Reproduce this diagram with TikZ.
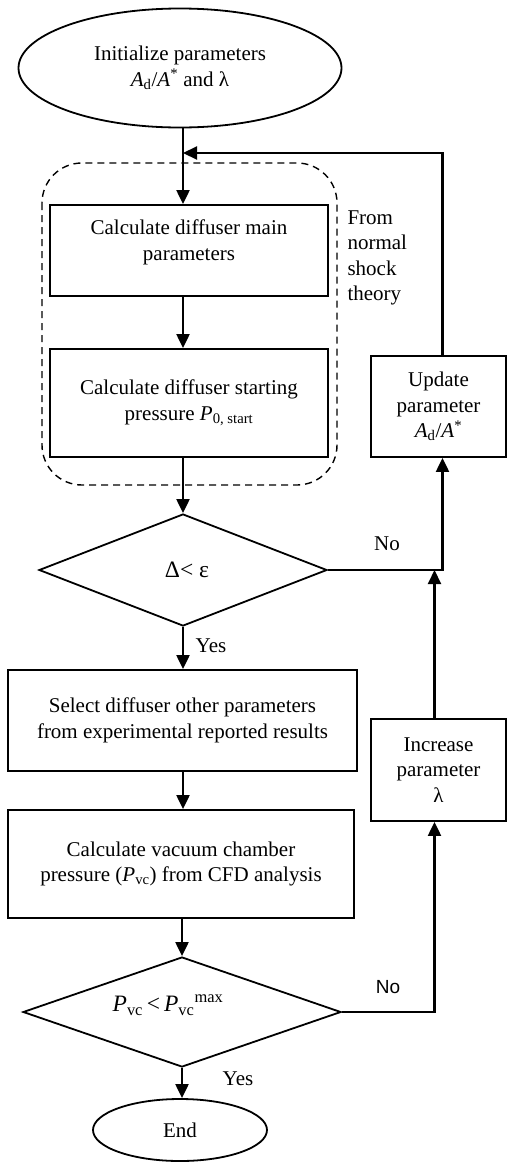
\documentclass[tikz,border=0pt]{standalone}
\usepackage{fontspec}
\setmainfont{Liberation Serif}
\newfontfamily\arialfont{Liberation Sans}
\usepackage{tikz}
\usetikzlibrary{shapes.geometric, arrows.meta, positioning, calc}

\begin{document}
\begin{tikzpicture}[
    x=1pt, y=-1pt,
    every node/.style={font=\fontsize{21}{25.5}\selectfont},
    process/.style={rectangle, draw, line width=1.8pt, align=center, inner sep=2pt},
    decision/.style={diamond, draw, line width=1.8pt, inner sep=-30pt, align=center, font=\fontsize{23.5}{26}\selectfont},
    terminal/.style={ellipse, draw, line width=1.8pt, align=center, inner sep=0pt},
    arrow/.style={-{Triangle[length=14pt, width=13pt]}, line width=2.1pt},
    tag/.style={font=\fontsize{21}{25.5}\selectfont}
]
    \useasboundingbox (0,0) rectangle (507,1162);

    % main column axis and loop point
    \coordinate (ax) at (183,0);
    \coordinate (loop) at (183,153);

    % Start
    \node[terminal, minimum width=323pt, minimum height=119pt] (init) at (180,68)
        {Initialize parameters\\\textit{A}\textsubscript{d}/\textit{A}\textsuperscript{*} and λ};

    % Normal shock block
    \node[process, minimum width=278pt, minimum height=91pt] (mainpar) at (189,250.5)
        {Calculate diffuser main\\parameters\\[-5pt]};
    \node[process, minimum width=278pt, minimum height=108pt] (startp) at (189,403)
        {Calculate diffuser starting\\pressure \textit{P}\textsubscript{0, start}};
    \draw[dashed, dash pattern=on 7pt off 5pt, line width=1.4pt, rounded corners=40pt]
        (42,163) rectangle (337,485);
    \node[tag, anchor=north west, align=left] (theory) at (344,207)
        {From\\normal\\shock\\theory};

    % First check
    \node[decision, minimum width=288pt, minimum height=112pt] (check1) at (183,570)
        {\hspace*{8pt}Δ< ε};

    % CFD part
    \node[process, minimum width=349pt, minimum height=101pt] (select) at (182.5,720.5)
        {Select diffuser other parameters\\from experimental reported results};
    \node[process, minimum width=346pt, minimum height=108pt] (cfd) at (181,864)
        {Calculate vacuum chamber\\pressure (\textit{P}\textsubscript{vc}) from CFD analysis};

    % Second check
    \node[decision, minimum width=318pt, minimum height=110pt] (check2) at (182,1012)
        {\textit{P}\textsubscript{vc}\,<\,\textit{P}\textsubscript{vc}\textsuperscript{max}\hspace*{28pt}\\[-8pt]};

    % End
    \node[terminal, minimum width=174pt, minimum height=62pt] (stop) at (180,1130) {End};

    % Right column
    \node[process, minimum width=135pt, minimum height=101pt] (update) at (438.5,406.5)
        {Update\\parameter\\\textit{A}\textsubscript{d}/\textit{A}\textsuperscript{*}};
    \node[process, minimum width=135pt, minimum height=102pt] (increase) at (438.5,770)
        {Increase\\parameter\\λ};

    % Main flow
    \draw[arrow] (init.south -| ax) -- (mainpar.north -| ax);
    \draw[arrow] (mainpar.south -| ax) -- (startp.north -| ax);
    \draw[arrow] (startp.south -| ax) -- (check1.north);
    \draw[arrow] (check1.south) -- (select.north -| check1.south);
    \draw[arrow] (select.south -| ax) -- (cfd.north -| ax);
    \draw[arrow] (cfd.south -| check2.north) -- (check2.north);
    \draw[arrow] (check2.south) -- (stop.north -| check2.south);

    % Feedback loops
    \draw[arrow] (check1.east) -| ([xshift=4pt]update.south);
    \draw[arrow] ([xshift=-4pt]increase.north) -- ([xshift=-4pt]increase.north |- check1.east);
    \draw[arrow] (check2.east) -| ([xshift=-4pt]increase.south);
    \draw[arrow] ([xshift=4pt]update.north) |- (loop);

    % Labels
    \node[tag] (no1) at (387,544) {No};
    \node[tag, font=\arialfont\fontsize{19}{22}\selectfont] (no2) at (388,987) {No};
    \node[tag] (yes1) at (211,646) {Yes};
    \node[tag] (yes2) at (238,1079) {Yes};

\end{tikzpicture}
\end{document}
